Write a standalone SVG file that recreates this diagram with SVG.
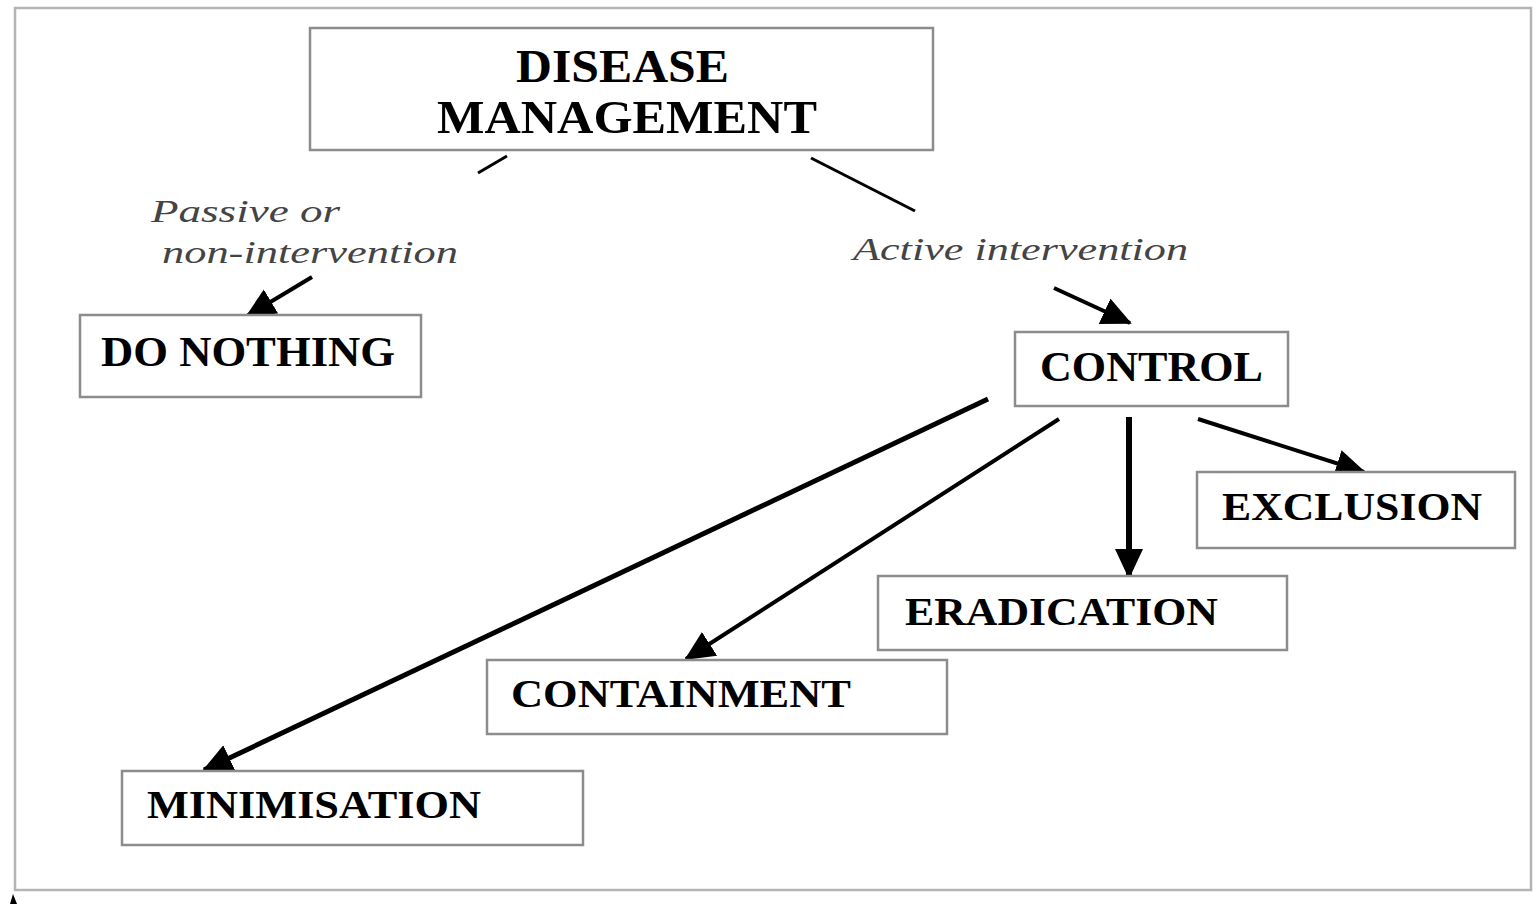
<svg xmlns="http://www.w3.org/2000/svg" width="1538" height="904" viewBox="0 0 1538 904">
<defs>
<style>
.box{fill:#fff;stroke:#8c8c8c;stroke-width:2.5}
.lbl{font-family:"Liberation Serif","Times New Roman",serif;font-weight:bold;fill:#000}
.it{font-family:"Liberation Serif","Times New Roman",serif;font-style:italic;fill:#444;font-size:32px}
.ln{stroke:#000;fill:none;stroke-linecap:butt}
</style>
<marker id="ah" markerUnits="userSpaceOnUse" markerWidth="32" markerHeight="30" refX="28" refY="14" orient="auto">
<path d="M0,0 L30,14 L0,28 z" fill="#000"/>
</marker>
</defs>
<rect width="1538" height="904" fill="#fff"/>
<rect x="15" y="8" width="1516" height="882" fill="none" stroke="#b4b4b4" stroke-width="2.5"/>
<path d="M10,904 L13,894 L17,904 z" fill="#000"/>

<g id="connectors">
<line class="ln" x1="507" y1="156" x2="478" y2="173" stroke-width="3"/>
<line class="ln" x1="811" y1="158" x2="915" y2="211" stroke-width="3"/>
<line class="ln" x1="312" y1="277" x2="247" y2="316" stroke-width="4" marker-end="url(#ah)"/>
<line class="ln" x1="1054" y1="288" x2="1130" y2="323" stroke-width="4" marker-end="url(#ah)"/>
<line class="ln" x1="1129" y1="417" x2="1129" y2="577" stroke-width="6" marker-end="url(#ah)"/>
<line class="ln" x1="1198" y1="419" x2="1364" y2="472" stroke-width="4" marker-end="url(#ah)"/>
<line class="ln" x1="1059" y1="419" x2="686" y2="659" stroke-width="4" marker-end="url(#ah)"/>
<line class="ln" x1="988" y1="399" x2="204" y2="770" stroke-width="5" marker-end="url(#ah)"/>
</g>

<g id="disease-management">
<rect class="box" x="310" y="28" width="623" height="122"/>
<text class="lbl" x="516" y="82" font-size="46" textLength="213" lengthAdjust="spacingAndGlyphs">DISEASE</text>
<text class="lbl" x="437" y="133" font-size="46" textLength="380" lengthAdjust="spacingAndGlyphs">MANAGEMENT</text>
</g>

<g id="passive-label">
<text class="it" x="151" y="222" textLength="189" lengthAdjust="spacingAndGlyphs">Passive or</text>
<text class="it" x="162" y="263" textLength="296" lengthAdjust="spacingAndGlyphs">non-intervention</text>
</g>

<g id="active-label">
<text class="it" x="853" y="260" textLength="335" lengthAdjust="spacingAndGlyphs">Active intervention</text>
</g>

<g id="do-nothing">
<rect class="box" x="80" y="315" width="341" height="82"/>
<text class="lbl" x="101" y="366" font-size="42" textLength="294" lengthAdjust="spacingAndGlyphs">DO NOTHING</text>
</g>

<g id="control">
<rect class="box" x="1015" y="332" width="273" height="74"/>
<text class="lbl" x="1040" y="381" font-size="42" textLength="223" lengthAdjust="spacingAndGlyphs">CONTROL</text>
</g>

<g id="exclusion">
<rect class="box" x="1197" y="472" width="318" height="76"/>
<text class="lbl" x="1222" y="520" font-size="40" textLength="260" lengthAdjust="spacingAndGlyphs">EXCLUSION</text>
</g>

<g id="eradication">
<rect class="box" x="878" y="576" width="409" height="74"/>
<text class="lbl" x="905" y="625" font-size="40" textLength="313" lengthAdjust="spacingAndGlyphs">ERADICATION</text>
</g>

<g id="containment">
<rect class="box" x="487" y="660" width="460" height="74"/>
<text class="lbl" x="511" y="707" font-size="40" textLength="340" lengthAdjust="spacingAndGlyphs">CONTAINMENT</text>
</g>

<g id="minimisation">
<rect class="box" x="122" y="771" width="461" height="74"/>
<text class="lbl" x="147" y="818" font-size="40" textLength="334" lengthAdjust="spacingAndGlyphs">MINIMISATION</text>
</g>
</svg>
